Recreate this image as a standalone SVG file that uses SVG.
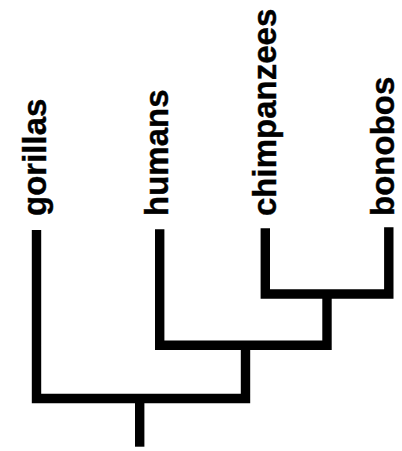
<svg xmlns="http://www.w3.org/2000/svg" width="402" height="451" viewBox="0 0 402 451">
  <style>
    .edge { fill: none; stroke: #000; stroke-width: 9.4; stroke-linecap: butt; stroke-linejoin: miter; }
    .label { font-family: "Liberation Sans", Arial, sans-serif; font-weight: bold; font-size: 33px; fill: #000; stroke: #000; stroke-width: 0.4; }
  </style>
  <rect width="402" height="451" fill="#fff"/>
  <g id="connectors">
    <path class="edge" d="M265.3,228.3 V294 H388.8 V227.3"/>
    <path class="edge" d="M159.7,229.3 V345.3 H327 V294"/>
    <path class="edge" d="M36.5,230 V398.5 H245.5 V345.3"/>
    <path class="edge" d="M139.7,398.5 V446.7"/>
  </g>
  <g id="node-gorillas">
    <text class="label" transform="translate(46,216) rotate(-90)">gorillas</text>
  </g>
  <g id="node-humans">
    <text class="label" transform="translate(168,216) rotate(-90)">humans</text>
  </g>
  <g id="node-chimpanzees">
    <text class="label" transform="translate(276,216) rotate(-90)">chimpanzees</text>
  </g>
  <g id="node-bonobos">
    <text class="label" transform="translate(394,216) rotate(-90)">bonobos</text>
  </g>
</svg>
